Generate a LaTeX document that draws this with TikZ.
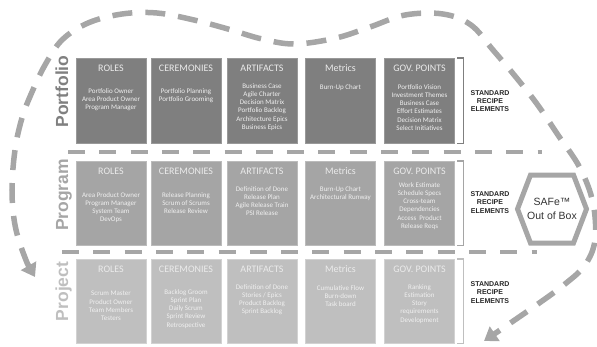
\documentclass[tikz,border=0pt]{standalone}
\usepackage{fontspec}
\setmainfont{Carlito}
\newfontfamily\arialfont{Liberation Sans}
\usetikzlibrary{arrows.meta,calc}

\definecolor{pfFill}{HTML}{7F7F7F}
\definecolor{pfEdge}{HTML}{999999}
\definecolor{pgFill}{HTML}{A5A5A5}
\definecolor{pgEdge}{HTML}{BBBBBB}
\definecolor{pjFill}{HTML}{BFBFBF}
\definecolor{pjEdge}{HTML}{D2D2D2}
\definecolor{flowGray}{HTML}{A6A6A6}
\definecolor{labelDark}{HTML}{808080}
\definecolor{labelMid}{HTML}{A6A6A6}
\definecolor{labelLight}{HTML}{BFBFBF}
\definecolor{inkDark}{HTML}{262626}
\definecolor{hexInk}{HTML}{333333}

\tikzset{
  cell/.style={draw=#1Edge, fill=#1Fill, line width=0.8pt,
    minimum width=70pt, minimum height=84pt, inner sep=0pt},
  celltitle/.style={text=white!92!black, inner sep=0pt,
    font=\fontsize{10}{12}\selectfont},
  celllist/.style={text=white!94!black, inner sep=0pt, anchor=north,
    align=center, font=\fontsize{7}{8.3}\selectfont},
  rowlabel/.style={rotate=90, anchor=base, inner sep=0pt,
    font=\arialfont\bfseries\fontsize{17.5}{20}\selectfont},
  recipe/.style={text=inkDark, align=center, inner sep=0pt,
    font=\arialfont\bfseries\fontsize{7}{8.3}\selectfont},
  bracketline/.style={draw=#1, line width=1.8pt},
  separator/.style={draw=flowGray, line width=4pt,
    dash pattern=on 17pt off 14.3pt},
  flowline/.style={draw=flowGray, line width=5.5pt,
    dash pattern=on 20pt off 13pt,
    {Triangle[length=13pt,width=17pt]}-{Triangle[length=13pt,width=17pt]}},
  hexline/.style={draw=flowGray, line width=5pt, line join=miter}
}

\begin{document}
\begin{tikzpicture}[x=1pt,y=-1pt]
\path[use as bounding box] (0,0) rectangle (597,346);

% ---------- Portfolio row ----------
\node[cell=pf, minimum height=85pt] (pf-roles) at (111,100.5) {};
\node[cell=pf, minimum height=85pt] (pf-cer)   at (186,100.5) {};
\node[cell=pf, minimum height=85pt] (pf-art)   at (262,100.5) {};
\node[cell=pf, minimum height=85pt] (pf-met)   at (340.5,100.5) {};
\node[cell=pf, minimum height=85pt] (pf-gov)   at (419.5,100.5) {};

\node[celltitle] at (111,68.5) {ROLES};
\node[celltitle] at (186,68.5) {CEREMONIES};
\node[celltitle] at (262,68.5) {ARTIFACTS};
\node[celltitle] at (340.5,68.5) {Metrics};
\node[celltitle] at (419.5,68.5) {GOV. POINTS};

\node[celllist] at (111,88) {Portfolio Owner\\Area Product Owner\\Program Manager};
\node[celllist] at (186,88) {Portfolio Planning\\Portfolio Grooming};
\node[celllist] at (262,83) {Business Case\\Agile Charter\\Decision Matrix\\Portfolio Backlog\\Architecture Epics\\Business Epics};
\node[celllist] at (340.5,84) {Burn-Up Chart};
\node[celllist] at (419.5,84) {Portfolio Vision\\Investment Themes\\Business Case\\Effort Estimates\\Decision Matrix\\Select Initiatives};

\node[rowlabel, text=labelDark] (lbl-pf) at (68,91.5) {Portfolio};
\draw[bracketline=pfFill] ([xshift=2.5pt]pf-gov.north east) -| ([xshift=8.5pt]pf-gov.south east) -- ([xshift=2.5pt]pf-gov.south east);
\node[recipe] (rc-pf) at (490,101) {STANDARD\\RECIPE\\ELEMENTS};

% ---------- Program row ----------
\node[cell=pg] (pg-roles) at (111,203) {};
\node[cell=pg] (pg-cer)   at (186,203) {};
\node[cell=pg] (pg-art)   at (262,203) {};
\node[cell=pg] (pg-met)   at (340.5,203) {};
\node[cell=pg] (pg-gov)   at (419.5,203) {};

\node[celltitle] at (111,171.5) {ROLES};
\node[celltitle] at (186,171.5) {CEREMONIES};
\node[celltitle] at (262,171.5) {ARTIFACTS};
\node[celltitle] at (340.5,171.5) {Metrics};
\node[celltitle] at (419.5,171.5) {GOV. POINTS};

\node[celllist] at (111,192) {Area Product Owner\\Program Manager\\System Team\\DevOps};
\node[celllist] at (186,192) {Release Planning\\Scrum of Scrums\\Release Review};
\node[celllist] at (262,186) {Definition of Done\\Release Plan\\Agile Release Train\\PSI Release};
\node[celllist] at (340.5,186) {Burn-Up Chart\\Architectural Runway};
\node[celllist] at (419.5,182) {Work Estimate\\Schedule Specs\\Cross-team\\Dependencies\\Access~~Product\\Release Reqs};

\node[rowlabel, text=labelMid] (lbl-pg) at (68,195) {Program};
\draw[bracketline=pgFill] ([xshift=2.5pt]pg-gov.north east) -| ([xshift=8.5pt]pg-gov.south east) -- ([xshift=2.5pt]pg-gov.south east);
\node[recipe] (rc-pg) at (490,202.5) {STANDARD\\RECIPE\\ELEMENTS};

% ---------- Project row ----------
\node[cell=pj] (pj-roles) at (111,301) {};
\node[cell=pj] (pj-cer)   at (186,301) {};
\node[cell=pj] (pj-art)   at (262,301) {};
\node[cell=pj] (pj-met)   at (340.5,301) {};
\node[cell=pj] (pj-gov)   at (419.5,301) {};

\node[celltitle] at (111,269.5) {ROLES};
\node[celltitle] at (186,269.5) {CEREMONIES};
\node[celltitle] at (262,269.5) {ARTIFACTS};
\node[celltitle] at (340.5,269.5) {Metrics};
\node[celltitle] at (419.5,269.5) {GOV. POINTS};

\node[celllist] at (111,291) {Scrum Master\\Product Owner\\Team Members\\Testers};
\node[celllist] at (186,289) {Backlog Groom\\Sprint Plan\\Daily Scrum\\Sprint Review\\Retrospective};
\node[celllist] at (262,284) {Definition of Done\\Stories / Epics\\Product Backlog\\Sprint Backlog};
\node[celllist] at (340.5,285) {Cumulative Flow\\Burn-down\\Task board};
\node[celllist] at (419.5,284) {Ranking\\Estimation\\Story\\requirements\\Development};

\node[rowlabel, text=labelLight] (lbl-pj) at (68,291.5) {Project};
\draw[bracketline=pjFill] ([xshift=2.5pt]pj-gov.north east) -| ([xshift=8.5pt]pj-gov.south east) -- ([xshift=2.5pt]pj-gov.south east);
\node[recipe] (rc-pj) at (490,292.5) {STANDARD\\RECIPE\\ELEMENTS};

% ---------- dashed row separators ----------
\coordinate (sepA-l) at (68,152);
\coordinate (sepA-r) at (542,152);
\coordinate (sepB-l) at (62,252);
\coordinate (sepB-r) at (537,252);
\draw[separator] (sepA-l) -- (sepA-r);
\draw[separator] (sepB-l) -- (sepB-r);

% ---------- SAFe hexagon ----------
\node[text=hexInk, align=center, inner sep=0pt,
      font=\arialfont\fontsize{10.5}{14}\selectfont] (safe) at (552,209) {SAFe™\\Out of Box};
\draw[hexline] ($(safe)+(-34.5,0)$) -- ($(safe)+(-21.5,-34)$) -- ($(safe)+(21.5,-34)$)
  -- ($(safe)+(34.5,0)$) -- ($(safe)+(21.5,34)$) -- ($(safe)+(-21.5,34)$) -- cycle;

% ---------- enclosing flow arrow ----------
\coordinate (flow-start) at (35,277);
\coordinate (flow-end) at (484,341);
\draw[flowline] plot[smooth, tension=0.6] coordinates {
  (flow-start) (24,255) (15,225) (12,190) (15,150) (22,118) (32,92) (45,65)
  (62,40) (88,23) (122,14) (157,13) (194,20) (228,29) (262,39) (295,44)
  (336,38) (370,27) (405,15) (443,14) (471,25) (493,50) (515,76) (537,104)
  (558,135) (580,168) (593,203) (595,240) (585,265) (565,284) (535,306)
  (flow-end)};
\end{tikzpicture}
\end{document}
